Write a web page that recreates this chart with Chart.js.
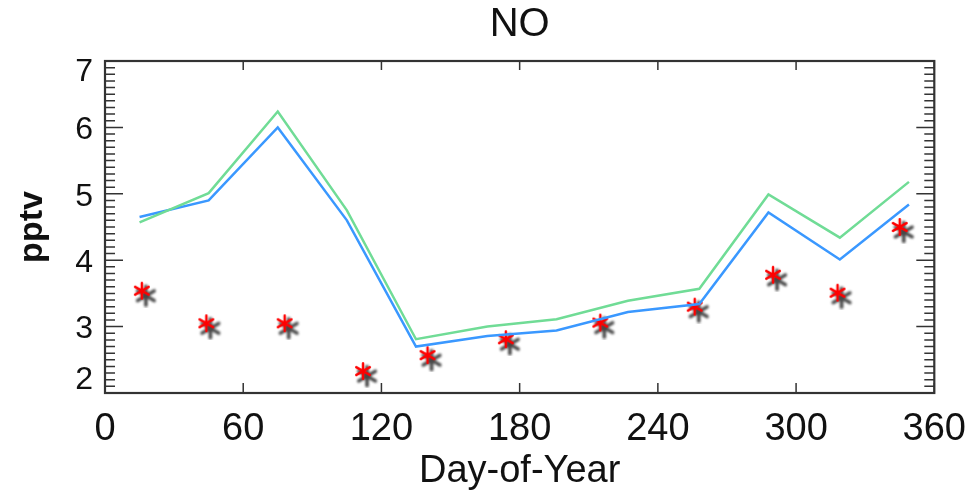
<!DOCTYPE html>
<html>
<head>
<meta charset="utf-8">
<title>NO</title>
<script src="https://cdn.jsdelivr.net/npm/chart.js@4.4.1/dist/chart.umd.min.js"></script>
<style>
  body { margin: 0; background: #fff; }
  #wrap { width: 980px; height: 494px; }
</style>
</head>
<body>
<div id="wrap"><canvas id="chart" width="980" height="494"></canvas></div>
<script>
// monthly model values (mid-month days)
const modelDays = [15, 45, 75, 105, 135, 166, 196, 227, 258, 288, 319, 349];
const blueValues = [4.65, 4.90, 6.00, 4.60, 2.70, 2.86, 2.94, 3.22, 3.34, 4.72, 4.01, 4.84];
const greenValues = [4.57, 5.01, 6.24, 4.75, 2.81, 3.00, 3.11, 3.39, 3.57, 4.99, 4.34, 5.18];

// observations (stars)
const obsDays = [16, 44, 78, 112, 140, 174, 215, 256, 290, 318, 345];
const obsValues = [3.54, 3.05, 3.05, 2.33, 2.57, 2.81, 3.06, 3.30, 3.78, 3.51, 4.50];

const xTicks = [0, 60, 120, 180, 240, 300, 360];
const yTicks = [2, 3, 4, 5, 6, 7];
const titleText = "NO";

const FONT = "'Liberation Sans', Arial, Helvetica, sans-serif";

// asterisk marker with a soft grey shadow
function makeStar() {
  const c = document.createElement("canvas");
  c.width = 34;
  c.height = 34;
  const g = c.getContext("2d");
  function arms(cx, cy, r) {
    g.beginPath();
    for (let k = 0; k < 3; k++) {
      const a = Math.PI / 2 + (k * Math.PI) / 3;
      g.moveTo(cx + r * Math.cos(a), cy + r * Math.sin(a));
      g.lineTo(cx - r * Math.cos(a), cy - r * Math.sin(a));
    }
    g.stroke();
  }
  g.lineCap = "round";
  g.filter = "blur(1.3px)";
  g.strokeStyle = "rgba(40,40,40,0.85)";
  g.lineWidth = 3.6;
  arms(21, 22, 9.5);
  g.filter = "none";
  g.strokeStyle = "#ff0000";
  g.lineWidth = 2.5;
  arms(17, 17, 7.8);
  return c;
}

// IDL-like box: frame, inward ticks, title over the plot, y labels
const frameTicks = {
  id: "frameTicks",
  afterDatasetsDraw(chart) {
    const { ctx, chartArea, scales } = chart;
    const { left, right, top, bottom } = chartArea;
    const x = scales.x, y = scales.y;
    ctx.save();
    ctx.strokeStyle = "#333";
    ctx.lineWidth = 1.5;
    ctx.beginPath();
    // minor ticks every 0.1 on y, major every 1
    const n = Math.round((y.max - y.min) * 10);
    for (let i = 0; i <= n; i++) {
      const py = y.getPixelForValue(y.min + i / 10);
      const len = i % 10 === 0 ? 18 : 10;
      ctx.moveTo(left, py); ctx.lineTo(left + len, py);
      ctx.moveTo(right, py); ctx.lineTo(right - len, py);
    }
    x.ticks.forEach((t) => {
      const px = x.getPixelForValue(t.value);
      ctx.moveTo(px, bottom); ctx.lineTo(px, bottom - 10);
      ctx.moveTo(px, top); ctx.lineTo(px, top + 9);
    });
    ctx.stroke();
    ctx.lineWidth = 2.2;
    ctx.strokeRect(left, top, right - left, bottom - top);

    ctx.fillStyle = "#111";
    ctx.font = "40px " + FONT;
    ctx.textAlign = "center";
    ctx.textBaseline = "middle";
    ctx.fillText(titleText, (left + right) / 2, 25);

    // y labels, end labels pulled inside the box like IDL does
    ctx.font = "32px " + FONT;
    ctx.textAlign = "right";
    yTicks.forEach((v) => {
      let py = y.getPixelForValue(v) + 3;
      if (v === y.max) py += 8;
      if (v === y.min) py -= 16;
      ctx.fillText(String(v), left - 12, py);
    });
    ctx.restore();
  },
};

new Chart(document.getElementById("chart"), {
  type: "scatter",
  data: {
    datasets: [
      {
        label: "model 2",
        data: modelDays.map((d, i) => ({ x: d, y: greenValues[i] })),
        showLine: true,
        borderColor: "rgb(112,220,150)",
        borderWidth: 2.5,
        pointRadius: 0,
        tension: 0,
      },
      {
        label: "model 1",
        data: modelDays.map((d, i) => ({ x: d, y: blueValues[i] })),
        showLine: true,
        borderColor: "rgb(58,152,255)",
        borderWidth: 2.5,
        pointRadius: 0,
        tension: 0,
      },
      {
        label: "obs",
        data: obsDays.map((d, i) => ({ x: d, y: obsValues[i] })),
        showLine: false,
        pointStyle: makeStar(),
        pointRadius: 10,
      },
    ],
  },
  options: {
    responsive: false,
    animation: false,
    layout: { padding: { left: 0, right: 37, top: 61, bottom: 0 } },
    plugins: {
      legend: { display: false },
      tooltip: { enabled: false },
      title: { display: false },
    },
    scales: {
      x: {
        type: "linear",
        min: 0,
        max: 360,
        grid: { display: false, drawTicks: false },
        border: { display: false },
        afterBuildTicks: (s) => { s.ticks = xTicks.map((v) => ({ value: v })); },
        afterFit: (s) => { s.height = 101; },
        ticks: {
          color: "#111",
          font: { family: FONT, size: 38 },
          padding: 14,
          maxRotation: 0,
          autoSkip: false,
        },
        title: {
          display: true,
          text: "Day-of-Year",
          color: "#111",
          font: { family: FONT, size: 38 },
          padding: { top: 0, bottom: 0 },
        },
      },
      y: {
        min: 2,
        max: 7,
        grid: { display: false, drawTicks: false },
        border: { display: false },
        afterBuildTicks: (s) => { s.ticks = yTicks.map((v) => ({ value: v })); },
        afterFit: (s) => { s.width = 105; },
        ticks: { display: false },
        title: {
          display: true,
          text: "pptv",
          color: "#111",
          font: { family: FONT, size: 34, weight: "bold" },
          padding: { top: 12, bottom: 0 },
        },
      },
    },
  },
  plugins: [frameTicks],
});
</script>
</body>
</html>
